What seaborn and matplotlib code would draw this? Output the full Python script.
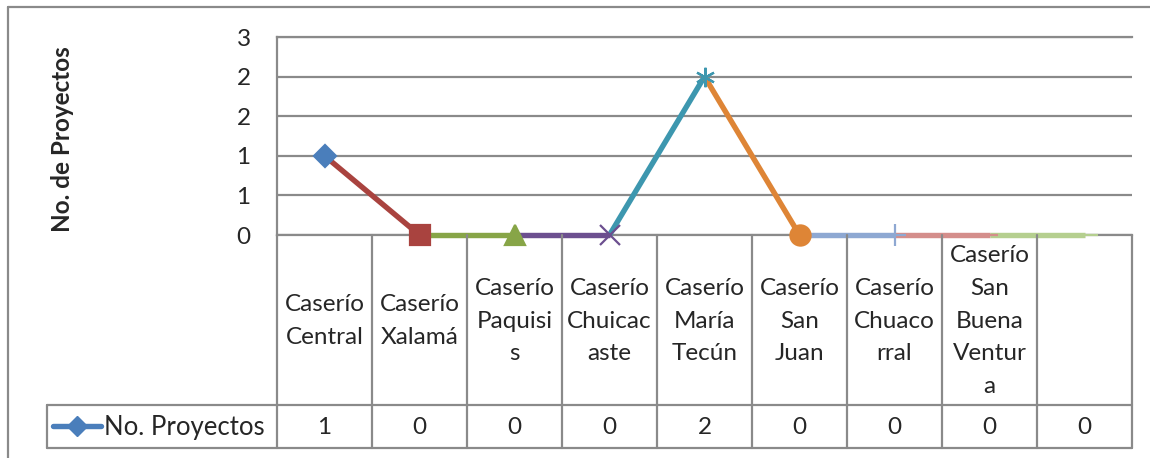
import seaborn as sns
import pandas as pd
import matplotlib.pyplot as plt
from matplotlib.lines import Line2D
import matplotlib.transforms as mtransforms

# datos del grafico
categorias = ["Caserío\nCentral", "Caserío\nXalamá", "Caserío\nPaquisi\ns",
              "Caserío\nChuicac\naste", "Caserío\nMaría\nTecún", "Caserío\nSan\nJuan",
              "Caserío\nChuaco\nrral", "Caserío\nSan\nBuena\nVentur\na", ""]
proyectos = [1, 0, 0, 0, 2, 0, 0, 0, 0]
serie = "No. Proyectos"
y_ticks = [0, 0.5, 1, 1.5, 2, 2.5]
y_tick_labels = ["0", "1", "1", "2", "2", "3"]

# colores y marcadores por punto (estilo Excel)
colores = ["#4A7EBB", "#A9433F", "#87A547", "#6C4F8F", "#3D97AF",
           "#DE8536", "#8EA8D2", "#D48E8B", "#B5CF8F"]
marcadores = ["D", "s", "^", "x", (6, 2, 0), "o", "+", "_", "_"]
tam_marcador = [11, 14.5, 14.5, 14, 14, 14.5, 16, 12, 18]

sns.set_style("white")
plt.rcParams["font.family"] = ["Lato", "DejaVu Sans"]

W, H = 1150, 458
fig = plt.figure(figsize=(W / 100, H / 100), dpi=100)
ax = fig.add_axes([277 / W, 1 - 235 / H, (1132 - 277) / W, (235 - 37) / H])

gris = "#8A8A8A"
fs = 17.5
df = pd.DataFrame({"x": range(len(proyectos)), "y": proyectos})

# segmentos: cada uno con el color del punto donde termina
for i in range(len(proyectos) - 1):
    seg = df.iloc[i:i + 2]
    sns.lineplot(data=seg, x="x", y="y", color=colores[i + 1], lw=3.9, ax=ax,
                 solid_capstyle="butt", zorder=3, clip_on=False)

# marcadores
for i in range(len(proyectos)):
    pt = df.iloc[i:i + 1]
    sns.lineplot(data=pt, x="x", y="y", marker=marcadores[i], markersize=tam_marcador[i],
                 color=colores[i], markeredgecolor=colores[i], markeredgewidth=1.6,
                 ax=ax, zorder=4, clip_on=False)

ax.set_xlim(-0.5, len(proyectos) - 0.5)
ax.set_ylim(0, 2.5)
ax.set_yticks(y_ticks)
ax.set_yticklabels(y_tick_labels, fontsize=fs)
ax.set_xticks([])
ax.set_xlabel("")
ax.set_ylabel("")
ax.tick_params(axis="y", length=0, pad=19)
ax.grid(axis="y", color=gris, lw=1.6)
for s in ["top", "bottom", "left"]:
    ax.spines[s].set_color(gris)
    ax.spines[s].set_linewidth(1.6)
ax.spines["right"].set_visible(False)

fig.text(62 / W, 1 - 139 / H, "No. de Proyectos", rotation=90, fontsize=17.5,
         fontweight="bold", ha="center", va="center")

# tabla de datos debajo del grafico
tr = mtransforms.blended_transform_factory(ax.transData, fig.transFigure)
fy = lambda y: 1 - y / H
n = len(proyectos)
for k in range(n + 1):
    fig.add_artist(Line2D([k - 0.5, k - 0.5], [fy(235), fy(448)], transform=tr,
                          color=gris, lw=1.6))
for yy in [405, 448]:
    fig.add_artist(Line2D([47 / W, 1132 / W], [fy(yy), fy(yy)], color=gris, lw=1.6))
fig.add_artist(Line2D([47 / W, 47 / W], [fy(405), fy(448)], color=gris, lw=1.6))

for i, (cat, val) in enumerate(zip(categorias, proyectos)):
    fig.text(i, fy(321), cat, transform=tr, ha="center", va="center",
             fontsize=fs, linespacing=1.68)
    fig.text(i, fy(427), str(val), transform=tr, ha="center", va="center", fontsize=fs)

# leyenda dentro de la tabla
fig.add_artist(Line2D([53 / W, 101 / W], [fy(426), fy(426)], color=colores[0], lw=3.9))
fig.add_artist(Line2D([77 / W], [fy(426)], marker="D", markersize=10,
                      color=colores[0], lw=0))
fig.text(104 / W, fy(427), serie, ha="left", va="center", fontsize=18.5)

# borde exterior del grafico
fig.add_artist(Line2D([8 / W, 8 / W], [fy(7), 0], color=gris, lw=1.6))
fig.add_artist(Line2D([8 / W, 1], [fy(7), fy(7)], color=gris, lw=1.6))

fig.savefig("out.png", dpi=100)
